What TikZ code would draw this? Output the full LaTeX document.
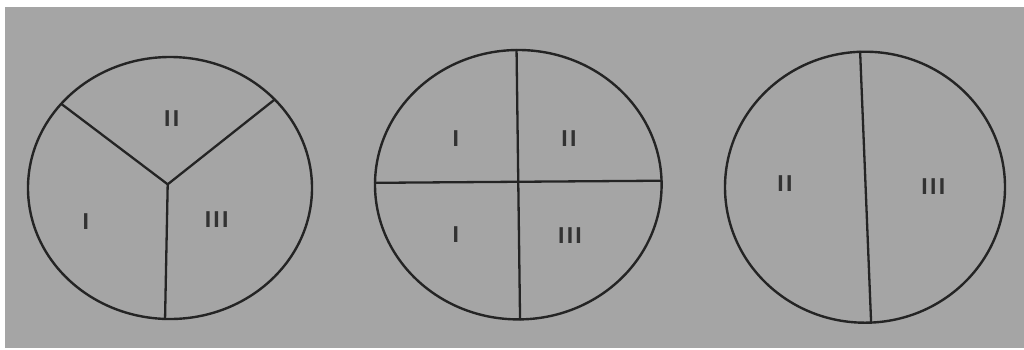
\documentclass[tikz,border=0pt]{standalone}
\usepackage{fontspec}
\newfontfamily\numfont[LetterSpace=10]{Liberation Sans}
\definecolor{paper}{RGB}{165,165,165}
\definecolor{ink}{RGB}{36,36,36}
\definecolor{numink}{RGB}{50,50,50}
\begin{document}
\begin{tikzpicture}[x=1pt, y=-1pt,
        disc/.style={draw=ink, line width=2.4pt},
        cut/.style={draw=ink, line width=2.3pt, line cap=round},
        num/.style={text=numink, inner sep=0pt,
                    font=\numfont\bfseries\fontsize{23}{23}\selectfont}]
      % Paper
      \useasboundingbox (0,0) rectangle (1024,349);
      \fill[white] (0,0) rectangle (1024,349);
      \fill[paper] (5,7) rectangle (1024,348);
      % Centres
      \coordinate (c1) at (170,188);
      \coordinate (c2) at (518.3,184.7);
      \coordinate (c3) at (865,187.2);
      % Discs
      \draw[disc] (c1) ellipse [x radius=142pt, y radius=131pt];
      \draw[disc] (c2) ellipse [x radius=143.3pt, y radius=134.7pt];
      \draw[disc] (c3) ellipse [x radius=140pt, y radius=135.5pt];
      % Disc 1: three parts
      \coordinate (y1) at (167.7,184.3);
      \path (c1) ++(-140:142 and 131) coordinate (y1l);
      \path (c1) ++(-42.5:142 and 131) coordinate (y1r);
      \path (c1) ++(92:142 and 131) coordinate (y1b);
      \foreach \e in {y1l,y1r,y1b}
        \draw[cut] (y1) -- (\e);
      % Disc 2: four parts
      \path (c2) ++(-90.7:143.3 and 134.7) coordinate (q2t);
      \path (c2) ++(89.3:143.3 and 134.7) coordinate (q2b);
      \path (c2) ++(180.8:143.3 and 134.7) coordinate (q2l);
      \path (c2) ++(-1.7:143.3 and 134.7) coordinate (q2r);
      \draw[cut] (q2t) -- (q2b);
      \draw[cut] (q2l) -- (q2r);
      % Disc 3: two parts
      \path (c3) ++(-92:140 and 135.5) coordinate (h3t);
      \path (c3) ++(87.5:140 and 135.5) coordinate (h3b);
      \draw[cut] (h3t) -- (h3b);
      % Labels
      \node[num] (a2) at (171.7,118.3) {II};
      \node[num] (a1) at (85.7,221.7)  {I};
      \node[num] (a3) at (216.7,220)   {III};
      \node[num] (b1) at (455.7,139)   {I};
      \node[num] (b2) at (569,139)     {II};
      \node[num] (b4) at (455.7,235)   {I};
      \node[num] (b3) at (570,236)     {III};
      \node[num] (d2) at (785,184)     {II};
      \node[num] (d3) at (933.3,186.7) {III};
    \end{tikzpicture}
\end{document}
